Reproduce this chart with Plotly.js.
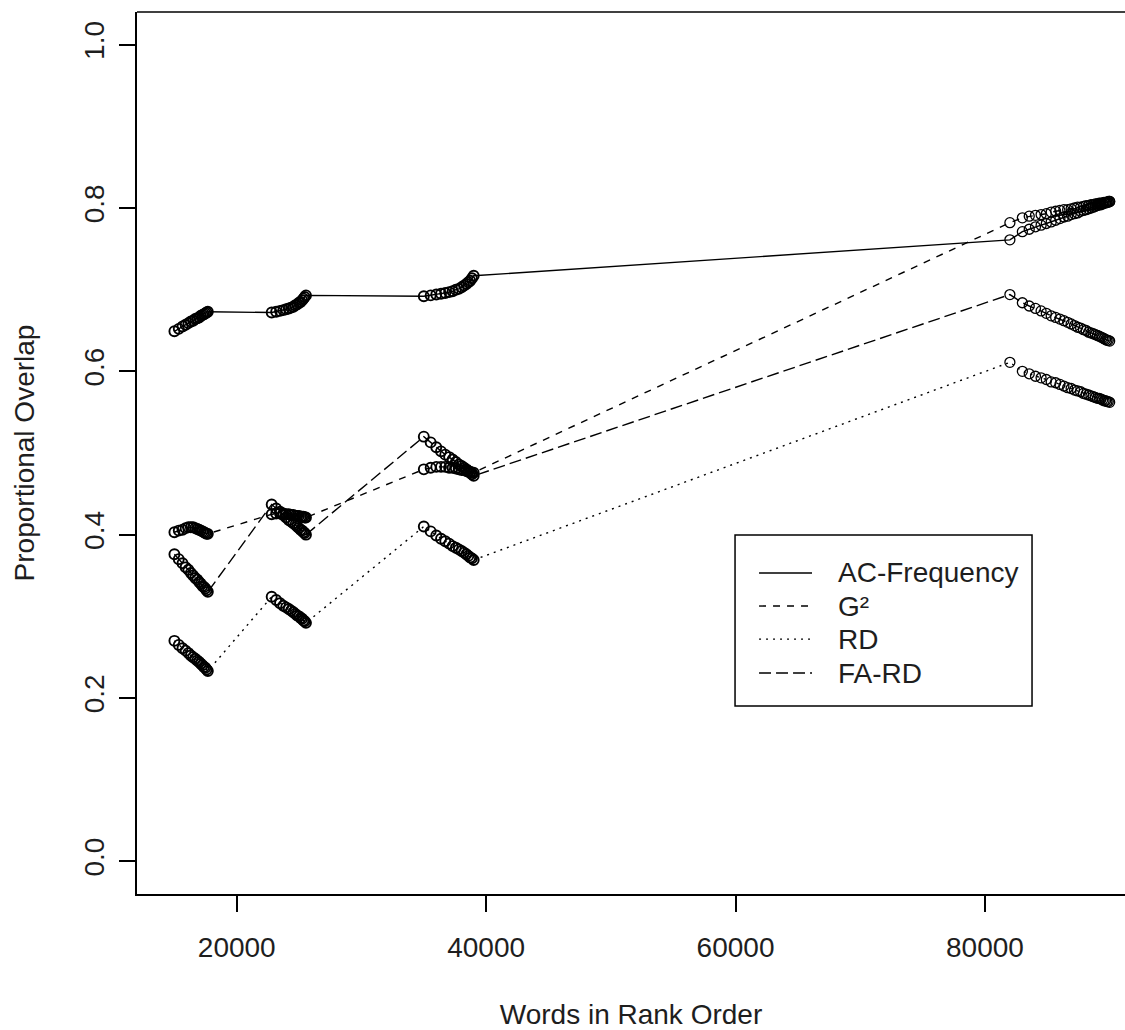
<!DOCTYPE html>
<html>
<head>
<meta charset="utf-8">
<script src="https://cdn.plot.ly/plotly-3.0.1.min.js"></script>
<style>
  html, body { margin: 0; padding: 0; background: #ffffff; }
  #chart { width: 1125px; height: 1030px; }
</style>
</head>
<body>
<div id="chart"></div>
<script>
// Words in rank order (x) – four clusters of measurements
const wordsRank = [
  15000, 15350, 15650, 15900, 16120, 16320, 16500, 16670, 16830, 16980, 17120, 17250, 17370, 17480, 17580, 17680,
  22800, 23160, 23470, 23730, 23960, 24170, 24360, 24540, 24700, 24850, 24990, 25120, 25240, 25350, 25450, 25550,
  35000, 35550, 36000, 36380, 36720, 37030, 37310, 37570, 37810, 38030, 38230, 38410, 38570, 38720, 38860, 39000,
  82000, 83000, 83550, 84050, 84500, 84920, 85310, 85670, 86010, 86330, 86630, 86910, 87180, 87430, 87670,
  87900, 88110, 88310, 88500, 88680, 88850, 89010, 89160, 89300, 89430, 89550, 89670, 89780, 89890, 90000
];

const acFrequency = [
  0.649, 0.652, 0.655, 0.657, 0.659, 0.661, 0.662, 0.664, 0.665, 0.666, 0.668, 0.669, 0.670, 0.671, 0.672, 0.673,
  0.672, 0.673, 0.674, 0.675, 0.676, 0.677, 0.678, 0.679, 0.681, 0.682, 0.684, 0.685, 0.687, 0.689, 0.691, 0.693,
  0.692, 0.693, 0.694, 0.695, 0.696, 0.697, 0.698, 0.700, 0.701, 0.703, 0.705, 0.707, 0.709, 0.711, 0.714, 0.717,
  0.761, 0.771, 0.774, 0.777, 0.779, 0.781, 0.783, 0.785, 0.787, 0.789, 0.790, 0.792, 0.793, 0.794, 0.796,
  0.797, 0.798, 0.799, 0.800, 0.801, 0.802, 0.803, 0.804, 0.804, 0.805, 0.806, 0.806, 0.807, 0.807, 0.808
];

const gSquared = [
  0.403, 0.405, 0.406, 0.408, 0.409, 0.409, 0.409, 0.408, 0.407, 0.406, 0.405, 0.404, 0.403, 0.402, 0.401, 0.401,
  0.425, 0.426, 0.426, 0.426, 0.425, 0.425, 0.424, 0.424, 0.423, 0.423, 0.423, 0.422, 0.422, 0.422, 0.421, 0.421,
  0.480, 0.482, 0.483, 0.483, 0.483, 0.482, 0.482, 0.481, 0.480, 0.479, 0.479, 0.478, 0.477, 0.477, 0.476, 0.476,
  0.782, 0.788, 0.790, 0.791, 0.792, 0.793, 0.795, 0.796, 0.797, 0.798, 0.798, 0.799, 0.800, 0.801, 0.801,
  0.802, 0.803, 0.803, 0.804, 0.804, 0.805, 0.805, 0.806, 0.806, 0.806, 0.807, 0.807, 0.807, 0.808, 0.808
];

const rdValues = [
  0.270, 0.265, 0.261, 0.258, 0.255, 0.252, 0.250, 0.248, 0.246, 0.244, 0.242, 0.240, 0.238, 0.237, 0.235, 0.233,
  0.324, 0.320, 0.316, 0.313, 0.311, 0.309, 0.307, 0.305, 0.303, 0.301, 0.300, 0.298, 0.297, 0.295, 0.294, 0.292,
  0.410, 0.404, 0.399, 0.395, 0.392, 0.389, 0.386, 0.384, 0.382, 0.380, 0.378, 0.376, 0.374, 0.372, 0.371, 0.369,
  0.611, 0.600, 0.597, 0.594, 0.592, 0.590, 0.587, 0.586, 0.584, 0.582, 0.580, 0.579, 0.577, 0.576, 0.575,
  0.573, 0.572, 0.571, 0.570, 0.569, 0.568, 0.567, 0.567, 0.566, 0.565, 0.564, 0.564, 0.563, 0.563, 0.562
];

const faRdValues = [
  0.376, 0.370, 0.365, 0.360, 0.357, 0.353, 0.350, 0.347, 0.345, 0.342, 0.340, 0.337, 0.336, 0.334, 0.332, 0.330,
  0.437, 0.432, 0.428, 0.424, 0.421, 0.418, 0.416, 0.414, 0.412, 0.410, 0.408, 0.406, 0.405, 0.403, 0.402, 0.400,
  0.520, 0.513, 0.507, 0.502, 0.498, 0.495, 0.492, 0.489, 0.486, 0.484, 0.482, 0.480, 0.478, 0.476, 0.474, 0.472,
  0.694, 0.684, 0.680, 0.677, 0.674, 0.671, 0.668, 0.666, 0.664, 0.662, 0.660, 0.658, 0.656, 0.654, 0.653,
  0.651, 0.650, 0.648, 0.647, 0.646, 0.645, 0.644, 0.643, 0.642, 0.641, 0.640, 0.639, 0.638, 0.638, 0.637
];

const seriesNames = ['AC-Frequency', 'G\u00B2', 'RD', 'FA-RD'];
const seriesDash = ['solid', '7px,7px', '2px,5px', '12px,5px'];
const seriesValues = [acFrequency, gSquared, rdValues, faRdValues];

const xTickVals = [20000, 40000, 60000, 80000];
const yTickVals = [0, 0.2, 0.4, 0.6, 0.8, 1.0];
const yTickText = ['0.0', '0.2', '0.4', '0.6', '0.8', '1.0'];

const FONT = 'Liberation Sans, Arial, sans-serif';
const FS = 28;
const TXT = '#1e1e1e';

// densely packed circles in the narrow clusters merge into dark blobs
const ringWidth = wordsRank.map(v => (v < 50000 ? 1.9 : 1.3));

const traces = seriesValues.map((vals, i) => ({
  type: 'scatter',
  mode: 'lines+markers',
  name: seriesNames[i],
  x: wordsRank,
  y: vals,
  showlegend: false,
  line: { color: '#000000', width: 1.4, dash: seriesDash[i] },
  marker: { symbol: 'circle-open', size: 10, color: '#000000', line: { width: ringWidth, color: '#000000' } },
  hoverinfo: 'x+y+name'
}));

// R-style legend (box, line samples, labels) in paper coordinates
const legX0 = 0.6053, legX1 = 0.9059, legYTop = 0.4070, legYBot = 0.2132;
const segX0 = 0.6296, segX1 = 0.6832, textX = 0.7075;
const rowY = [0.3640, 0.3265, 0.2890, 0.2505];

const shapes = [
  { type: 'rect', xref: 'paper', yref: 'paper', x0: legX0, x1: legX1, y0: legYBot, y1: legYTop,
    line: { color: '#000000', width: 1.5 }, fillcolor: 'rgba(0,0,0,0)' },
  { type: 'line', xref: 'paper', yref: 'paper', x0: 0, x1: 1, y0: 1, y1: 1,
    line: { color: '#000000', width: 1.5 } }
];
const annotations = [];
seriesNames.forEach((nm, i) => {
  shapes.push({ type: 'line', xref: 'paper', yref: 'paper', x0: segX0, x1: segX1, y0: rowY[i], y1: rowY[i],
    line: { color: '#000000', width: 1.4, dash: seriesDash[i] } });
  annotations.push({ xref: 'paper', yref: 'paper', x: textX, y: rowY[i], xanchor: 'left', yanchor: 'middle',
    text: nm, showarrow: false, font: { family: FONT, size: FS, color: TXT } });
});

const layout = {
  width: 1125, height: 1030,
  margin: { l: 137, r: 0, t: 12, b: 136, pad: 0 },
  paper_bgcolor: '#ffffff', plot_bgcolor: '#ffffff',
  font: { family: FONT, size: FS, color: TXT },
  xaxis: {
    range: [12000, 91230], tickvals: xTickVals, ticktext: xTickVals.map(String),
    ticks: 'outside', ticklen: 16, tickwidth: 1.5, tickcolor: '#000000',
    ticklabelstandoff: 12,
    showline: true, linecolor: '#000000', linewidth: 1.5, mirror: false,
    showgrid: false, zeroline: false,
    tickfont: { family: FONT, size: FS, color: TXT },
    title: { text: 'Words in Rank Order', font: { family: FONT, size: FS, color: TXT }, standoff: 43 }
  },
  yaxis: {
    range: [-0.04, 1.04], tickvals: yTickVals, ticktext: yTickText, tickangle: -90,
    ticks: 'outside', ticklen: 16, tickwidth: 1.5, tickcolor: '#000000',
    ticklabelstandoff: 4,
    showline: true, linecolor: '#000000', linewidth: 1.5,
    showgrid: false, zeroline: false,
    tickfont: { family: FONT, size: FS, color: TXT },
    title: { text: 'Proportional Overlap', font: { family: FONT, size: FS, color: TXT }, standoff: 36 }
  },
  shapes: shapes,
  annotations: annotations,
  showlegend: false
};

Plotly.newPlot('chart', traces, layout, { displayModeBar: false });
</script>
</body>
</html>
